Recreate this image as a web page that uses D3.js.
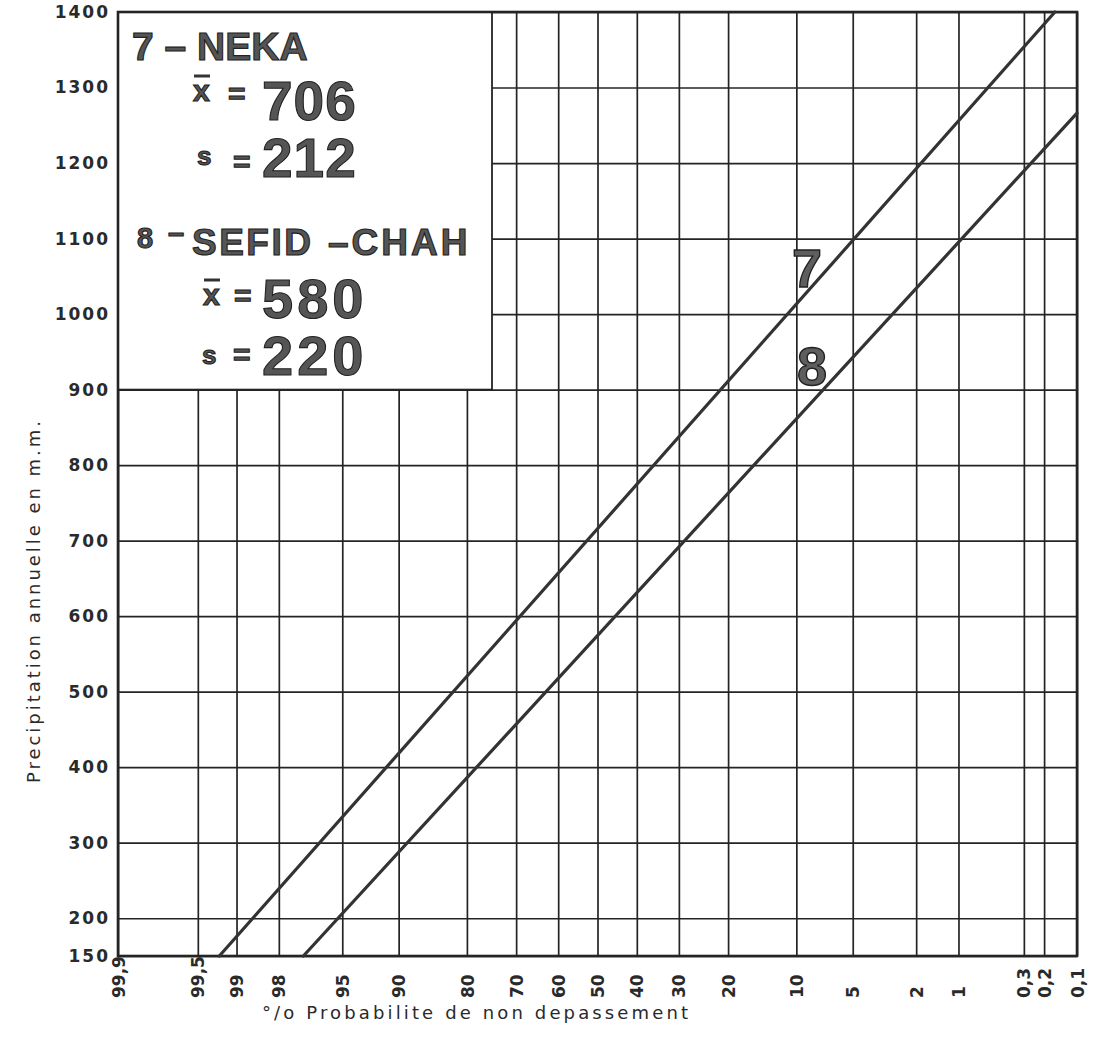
<!DOCTYPE html>
<html>
<head>
<meta charset="utf-8">
<script src="https://cdn.jsdelivr.net/npm/d3@7"></script>
<style>
  html, body { margin: 0; padding: 0; background: #fff; }
  svg { display: block; }
</style>
</head>
<body>
<script>
// ---------- data ----------
const probTicks  = [99.9, 99.5, 99, 98, 95, 90, 80, 70, 60, 50, 40, 30, 20, 10, 5, 2, 1, 0.3, 0.2, 0.1];
const probLabels = ["99,9","99,5","99","98","95","90","80","70","60","50","40","30","20","10","5","2","1","0,3","0,2","0,1"];
const precipTicks = [150, 200, 300, 400, 500, 600, 700, 800, 900, 1000, 1100, 1200, 1300, 1400];
const precipLabels = ["150","200","300","400","500","600","700","800","900","1000","1100","1200","1300","1400"];
// fitted lines read from the paper: [probability %, precipitation mm]
const line7 = [[99.26, 150], [0.16, 1400]];
const line8 = [[97.1, 150], [0.1, 1266]];
const lineLabels = [{ name: "7", p: 8.85, v: 1036 }, { name: "8", p: 8.33, v: 906 }];
const stationNames = ["7 – NEKA", "8 –SEFID –CHAH"];
const means = [706, 580];
const stdevs = [212, 220];

// ---------- inverse normal (probability-paper transform) ----------
function probit(p) {
  const a=[-3.969683028665376e+01,2.209460984245205e+02,-2.759285104469687e+02,1.383577518672690e+02,-3.066479806614716e+01,2.506628277459239e+00];
  const b=[-5.447609879822406e+01,1.615858368580409e+02,-1.556989798598866e+02,6.680131188771972e+01,-1.328068155288572e+01];
  const c=[-7.784894002430293e-03,-3.223964580411365e-01,-2.400758277161838e+00,-2.549732539343734e+00,4.374664141464968e+00,2.938163982698783e+00];
  const d=[7.784695709041462e-03,3.224671290700398e-01,2.445134137142996e+00,3.754408661907416e+00];
  const pl = 0.02425;
  if (p < pl) { const q = Math.sqrt(-2*Math.log(p)); return (((((c[0]*q+c[1])*q+c[2])*q+c[3])*q+c[4])*q+c[5])/((((d[0]*q+d[1])*q+d[2])*q+d[3])*q+1); }
  if (p > 1-pl) { const q = Math.sqrt(-2*Math.log(1-p)); return -(((((c[0]*q+c[1])*q+c[2])*q+c[3])*q+c[4])*q+c[5])/((((d[0]*q+d[1])*q+d[2])*q+d[3])*q+1); }
  const q = p-0.5, r = q*q;
  return (((((a[0]*r+a[1])*r+a[2])*r+a[3])*r+a[4])*r+a[5])*q/(((((b[0]*r+b[1])*r+b[2])*r+b[3])*r+b[4])*r+1);
}

// ---------- layout ----------
const W = 1097, H = 1046;
const L = 118, R = 1077, T = 12, B = 956;
const ink = "#242424";

const svg = d3.select("body").append("svg").attr("width", W).attr("height", H);

const xz = d3.scaleLinear().domain([probit(0.999), probit(0.001)]).range([L, R]);
const x = p => xz(probit(p / 100));
const y = d3.scaleLinear().domain([150, 1400]).range([B, T]);

// y axis with grid
const yAxis = d3.axisLeft(y).tickValues(precipTicks)
  .tickFormat((d, i) => precipLabels[i])
  .tickSizeInner(-(R - L)).tickSizeOuter(0).tickPadding(8);
const gy = svg.append("g").attr("transform", `translate(${L},0)`).call(yAxis);
gy.select(".domain").remove();
gy.selectAll(".tick line").attr("stroke", ink).attr("stroke-width", 1.7);
gy.selectAll(".tick text")
  .attr("fill", "#2a2a2a")
  .style("font-family", "DejaVu Sans").style("font-size", "17px").style("font-weight", "bold")
  .style("letter-spacing", "2px");

// x axis with grid
const xAxis = d3.axisBottom(xz).tickValues(probTicks.map(p => probit(p / 100)))
  .tickFormat((d, i) => probLabels[i])
  .tickSizeInner(-(B - T)).tickSizeOuter(0);
const gx = svg.append("g").attr("transform", `translate(0,${B})`).call(xAxis);
gx.select(".domain").remove();
gx.selectAll(".tick line").attr("stroke", ink).attr("stroke-width", 1.7);
gx.selectAll(".tick text")
  .attr("transform", "rotate(-90)")
  .attr("x", -42).attr("y", 0).attr("dy", "0.36em")
  .style("text-anchor", "start")
  .attr("fill", "#2a2a2a")
  .style("font-family", "DejaVu Sans").style("font-size", "17px").style("font-weight", "bold");

// legend box (covers grid in upper-left)
const boxRight = 492, boxBottom = y(900);
svg.append("rect").attr("x", L).attr("y", T).attr("width", boxRight - L).attr("height", boxBottom - T)
  .attr("fill", "#fff").attr("stroke", ink).attr("stroke-width", 1.8);

// frame
svg.append("rect").attr("x", L).attr("y", T).attr("width", R - L).attr("height", B - T)
  .attr("fill", "none").attr("stroke", ink).attr("stroke-width", 2.6);

// fitted lines
const lineGen = d3.line().x(d => x(d[0])).y(d => y(d[1]));
[line7, line8].forEach(ln => {
  svg.append("path").attr("d", lineGen(ln)).attr("fill", "none")
    .attr("stroke", "#333").attr("stroke-width", 3.2).attr("stroke-linecap", "round");
});

// line labels
lineLabels.forEach(l => {
  svg.append("text").attr("x", x(l.p)).attr("y", y(l.v)).attr("text-anchor", "middle")
    .attr("fill", "#5e5e5e").attr("stroke", "#222").attr("stroke-width", 1.4)
    .style("font-family", "Liberation Sans").style("font-weight", "bold").style("font-size", "54px")
    .text(l.name);
});

// legend text
function big(txt, xx, yy, size, ls) {
  return svg.append("text").attr("x", xx).attr("y", yy)
    .attr("fill", "#555").attr("stroke", "#222").attr("stroke-width", 1.1)
    .style("font-family", "Liberation Sans").style("font-weight", "bold")
    .style("font-size", size + "px").style("letter-spacing", (ls || 0) + "px")
    .text(txt);
}
function xbar(xx, yy) {
  big("x", xx, yy, 30);
  svg.append("line").attr("x1", xx + 1).attr("x2", xx + 17).attr("y1", yy - 25).attr("y2", yy - 25)
    .attr("stroke", "#333").attr("stroke-width", 3);
}
// station 7
big(stationNames[0], 132, 60, 39);
xbar(193, 101);
big("=", 228, 104, 30);
big(String(means[0]), 262, 120, 55, 1);
big("s", 197, 165, 26);
big("=", 233, 172, 30);
big(String(stdevs[0]), 262, 177, 55, 1);
// station 8
const st8 = stationNames[1].split(" ");
big(st8[0], 137, 248, 29);
big("–", 168, 243, 29);
big(st8[1].replace("–", ""), 192, 255, 37, 2.5);
big(st8[2], 328, 255, 37, 3);
xbar(203, 305);
big("=", 234, 306, 30);
big(String(means[1]), 262, 318, 56, 4);
big("s", 202, 364, 26);
big("=", 233, 365, 30);
big(String(stdevs[1]), 262, 375, 56, 4);

// axis titles
svg.append("text").attr("x", 262).attr("y", 1019)
  .attr("textLength", 426).attr("lengthAdjust", "spacing")
  .attr("fill", "#2a2a2a")
  .style("font-family", "DejaVu Sans").style("font-size", "18px")
  .text("°/o Probabilite de non depassement");

svg.append("text").attr("transform", "translate(40,783) rotate(-90)")
  .attr("x", 0).attr("y", 0)
  .attr("textLength", 362).attr("lengthAdjust", "spacing")
  .attr("fill", "#2a2a2a")
  .style("font-family", "DejaVu Sans").style("font-size", "18px")
  .text("Precipitation annuelle en m.m.");
</script>
</body>
</html>
